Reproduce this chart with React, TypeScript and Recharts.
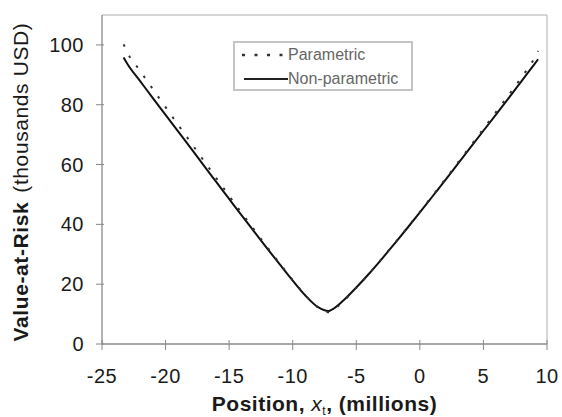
import { Label, Line, LineChart, ReferenceLine, XAxis, YAxis } from "recharts"

const positions = [
  -23.3, -23, -22, -21, -20, -19, -18, -17, -16, -15, -14, -13, -12, -11, -10, -9, -8, -7.2, -7, -6, -5, -4, -3,
  -2, -1, 0, 1, 2, 3, 4, 5, 6, 7, 8, 9, 9.3,
]
const parametric = [
  100.2, 97.4, 91.3, 85.2, 79.2, 73.2, 67.3, 61.3, 55.4, 49.5, 43.7, 38.0, 32.3, 26.8, 21.4, 16.3, 12.2, 10.6,
  10.9, 14.4, 18.8, 23.5, 28.5, 33.6, 38.8, 44.2, 49.6, 55.1, 60.7, 66.3, 71.9, 77.6, 83.3, 89.2, 95.5, 98.0,
]
const nonParametric = [
  95.8, 93.6, 87.9, 82.2, 76.6, 71.0, 65.4, 59.7, 54.1, 48.5, 42.9, 37.4, 31.9, 26.5, 21.2, 16.2, 12.3, 11.0,
  11.3, 14.6, 18.9, 23.5, 28.4, 33.5, 38.7, 44.0, 49.4, 54.8, 60.3, 65.8, 71.3, 76.8, 82.3, 87.9, 93.5, 95.2,
]
const xTicks = [-25, -20, -15, -10, -5, 0, 5, 10]
const yTicks = [0, 20, 40, 60, 80, 100]

const data = positions.map((x, i) => ({ x, parametric: parametric[i], nonParametric: nonParametric[i] }))

const font = "Arial, 'Liberation Sans', sans-serif"

function XTick({ x, y, payload }: any) {
  return (
    <g>
      <line x1={x} x2={x} y1={y - 4} y2={y + 6} stroke="#888" />
      <text x={x} y={y + 39} textAnchor="middle" fontSize={20} fill="#1a1a1a" fontFamily={font} letterSpacing={0.5}>
        {payload.value}
      </text>
    </g>
  )
}

function YTick({ x, y, payload }: any) {
  return (
    <g>
      <line x1={x - 6} x2={x + 2} y1={y} y2={y} stroke="#888" />
      <text x={x - 18} y={y + 7} textAnchor="end" fontSize={20} fill="#1a1a1a" fontFamily={font} letterSpacing={0.5}>
        {payload.value}
      </text>
    </g>
  )
}

function YTitle() {
  return (
    <text
      x={28}
      y={182}
      transform="rotate(-90, 28, 182)"
      textAnchor="middle"
      fontSize={21}
      fill="#1a1a1a"
      fontFamily={font}
      letterSpacing={0.6}
    >
      <tspan fontWeight="bold">Value-at-Risk</tspan>
      <tspan dx={9}>(thousands USD)</tspan>
    </text>
  )
}

function XTitle({ viewBox }: any) {
  const cx = viewBox.x + viewBox.width / 2
  return (
    <text
      x={cx}
      y={411}
      textAnchor="middle"
      fontSize={21}
      fill="#1a1a1a"
      fontFamily={font}
      fontWeight="bold"
      letterSpacing={0.5}
    >
      <tspan>Position, </tspan>
      <tspan fontStyle="italic" fontWeight="normal">x</tspan>
      <tspan fontSize={12} fontWeight="normal" dy={4}>t</tspan>
      <tspan dy={-4}>, (millions)</tspan>
    </text>
  )
}

export default function App() {
  return (
    <div style={{ position: "absolute", left: 0, top: 0, width: 562, height: 417, background: "#fff", fontFamily: font }}>
      <LineChart width={562} height={417} data={data} margin={{ top: 15, right: 15, bottom: 0, left: 0 }}>
        <XAxis
          dataKey="x"
          type="number"
          domain={[-25, 10]}
          ticks={xTicks}
          height={73}
          tickSize={0}
          tickMargin={0}
          tickLine={false}
          tick={<XTick />}
          axisLine={{ stroke: "#8a8a8a", strokeWidth: 1.5 }}
        >
          <Label content={<XTitle />} />
        </XAxis>
        <YAxis
          type="number"
          domain={[0, 110]}
          ticks={yTicks}
          width={102}
          tickSize={0}
          tickMargin={0}
          tickLine={false}
          tick={<YTick />}
          axisLine={{ stroke: "#999", strokeWidth: 1.5 }}
        >
          <Label content={<YTitle />} />
        </YAxis>
        <ReferenceLine y={110} stroke="#c8c8c8" strokeWidth={1.5} />
        <ReferenceLine x={10} stroke="#c8c8c8" strokeWidth={1.5} />
        <Line
          dataKey="nonParametric"
          type="monotone"
          stroke="#111"
          strokeWidth={2}
          dot={false}
          isAnimationActive={false}
        />
        <Line
          dataKey="parametric"
          type="monotone"
          stroke="#333"
          strokeWidth={2}
          strokeDasharray="2.5 10"
          dot={false}
          isAnimationActive={false}
        />
      </LineChart>
      <div
        style={{
          position: "absolute",
          left: 233,
          top: 41,
          width: 176,
          height: 46,
          border: "2px solid #c4c4c4",
          background: "#fff",
        }}
      >
        <svg width={50} height={48} style={{ position: "absolute", left: 5, top: 0 }}>
          <line x1={2} x2={46} y1={12} y2={12} stroke="#333" strokeWidth={2.5} strokeDasharray="3 9.5" />
          <line x1={4} x2={48} y1={36} y2={36} stroke="#222" strokeWidth={2} />
        </svg>
        <span style={{ position: "absolute", left: 53, top: 2, fontSize: 16, color: "#666", lineHeight: "20px" }}>
          Parametric
        </span>
        <span style={{ position: "absolute", left: 53, top: 26, fontSize: 16, color: "#666", lineHeight: "20px" }}>
          Non-parametric
        </span>
      </div>
    </div>
  )
}
